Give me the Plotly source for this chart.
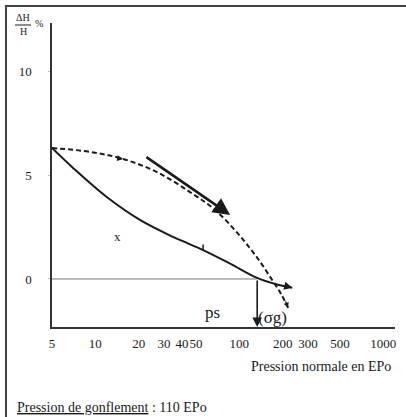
import numpy as np
import plotly.graph_objects as go

# ---- data ----
# solid curve : pression normale (EPo) vs dH/H (%)
solid_x = [5, 7.0, 12.0, 20.4, 34.7, 56, 86.3, 133, 183, 233]
solid_y = [6.3, 5.34, 3.94, 2.84, 2.02, 1.39, 0.74, 0.05, -0.27, -0.42]
# dashed curve
dash_x = [5, 9.2, 15.6, 26.8, 45.4, 67.8, 101, 135, 169, 195, 218]
dash_y = [6.3, 6.11, 5.77, 5.14, 4.18, 3.32, 2.07, 0.96, -0.05, -0.72, -1.39]

x_ticks = [5, 10, 20, 30, 40, 50, 100, 200, 300, 500, 1000]
x_ticktext = ["5", "10", "20", "30", "40", "50", "100", "200", "300", "500", "1000"]
y_ticks = [0, 5, 10]

ps_x = 133            # crossing of the solid curve with 0 (drawn position)
big_arrow_start = (22.1, 5.91)
big_arrow_end = (86.3, 3.08)
tick_mark_pt = (56, 1.39)
dash_mark_pt = (15.6, 5.77)
x_label_pt = (14.2, 2.02)
ps_label_pt = (65.6, -1.59)
sg_label_pt = (171, -1.83)

x_range = [np.log10(5), np.log10(5) + 343 / 144.0]
y_range = [-2.31, 12.31]

SERIF = "Liberation Serif, Times New Roman, serif"
INK = "#1a1a1a"

fig = go.Figure()

# zero line
fig.add_trace(go.Scatter(x=[5, ps_x], y=[0, 0], mode="lines",
                         line=dict(color="#777777", width=1), hoverinfo="skip"))
# solid curve
fig.add_trace(go.Scatter(x=solid_x, y=solid_y, mode="lines",
                         line=dict(color=INK, width=2, shape="spline", smoothing=1.0),
                         hoverinfo="skip"))
# dashed curve
fig.add_trace(go.Scatter(x=dash_x, y=dash_y, mode="lines",
                         line=dict(color=INK, width=2, dash="5px,3px", shape="spline", smoothing=1.0),
                         hoverinfo="skip"))

L = np.log10
ann = []
# big arrow
ann.append(dict(x=L(big_arrow_end[0]), y=big_arrow_end[1], xref="x", yref="y",
                ax=L(big_arrow_start[0]), ay=big_arrow_start[1], axref="x", ayref="y",
                showarrow=True, arrowhead=2, arrowsize=1.3, arrowwidth=2.6,
                arrowcolor=INK, text=""))
# vertical arrow at ps
ann.append(dict(x=L(ps_x), y=y_range[0], xref="x", yref="y",
                ax=L(ps_x), ay=0, axref="x", ayref="y",
                showarrow=True, arrowhead=2, arrowsize=1.2, arrowwidth=1.6,
                arrowcolor=INK, text=""))
# small tick on the solid curve
ann.append(dict(x=L(tick_mark_pt[0]), y=tick_mark_pt[1], xref="x", yref="y",
                ax=0, ay=-7, showarrow=True, arrowhead=0, arrowwidth=1.5,
                arrowcolor=INK, text=""))
# small arrow mark on dashed curve
ann.append(dict(x=L(dash_mark_pt[0]), y=dash_mark_pt[1], xref="x", yref="y",
                ax=-7, ay=-1, showarrow=True, arrowhead=2, arrowsize=0.8, arrowwidth=1.5,
                arrowcolor=INK, text=""))
# end of solid curve
ann.append(dict(x=L(solid_x[-1]), y=solid_y[-1], xref="x", yref="y",
                ax=-8, ay=-2, showarrow=True, arrowhead=2, arrowsize=0.9, arrowwidth=1.8,
                arrowcolor=INK, text=""))
# end of dashed curve
ann.append(dict(x=L(dash_x[-1]), y=dash_y[-1], xref="x", yref="y",
                ax=-3, ay=-8, showarrow=True, arrowhead=2, arrowsize=0.8, arrowwidth=1.3,
                arrowcolor=INK, text=""))

# text labels
def txt(x, y, s, size, xref="x", yref="y", xanchor="center"):
    return dict(x=x, y=y, xref=xref, yref=yref, text=s, showarrow=False,
                xanchor=xanchor, yanchor="middle",
                font=dict(family=SERIF, size=size, color=INK))

ann.append(txt(L(x_label_pt[0]), x_label_pt[1], "x", 13))
ann.append(txt(L(ps_label_pt[0]), ps_label_pt[1], "ps", 17))
ann.append(txt(L(sg_label_pt[0]), sg_label_pt[1], "(σg)", 17))

# axis titles and note
ann.append(txt((393 - 52) / 343, (327 - 366) / 304, "Pression normale en EPo", 14,
               "paper", "paper", "right"))
ann.append(txt((15 - 52) / 343, (327 - 407) / 304,
               "<u>Pression de gonflement</u> : 110 EPo", 14, "paper", "paper", "left"))
ann.append(txt((23 - 52) / 343, (327 - 18) / 304, "ΔH", 10, "paper", "paper"))
ann.append(txt((23 - 52) / 343, (327 - 32) / 304, "H", 10, "paper", "paper"))
ann.append(txt((39 - 52) / 343, (327 - 24) / 304, "%", 10, "paper", "paper"))

shapes = [
    # fraction bar
    dict(type="line", xref="paper", yref="paper",
         x0=(15 - 52) / 343, x1=(31 - 52) / 343, y0=(327 - 25) / 304, y1=(327 - 25) / 304,
         line=dict(color=INK, width=1)),
    # outer frame
    dict(type="rect", xref="paper", yref="paper",
         x0=(6 - 52) / 343, x1=(409 - 52) / 343, y0=(327 - 430) / 304, y1=(327 - 6) / 304,
         line=dict(color="#444444", width=2)),
]

fig.update_layout(
    width=406, height=417,
    margin=dict(l=52, r=11, t=23, b=90),
    paper_bgcolor="white", plot_bgcolor="white",
    showlegend=False,
    annotations=ann, shapes=shapes,
    xaxis=dict(type="log", range=x_range, tickvals=x_ticks, ticktext=x_ticktext,
               tickangle=0,
               showgrid=False, zeroline=False, showline=True, linecolor="#333333", linewidth=1.5,
               ticks="", ticklabelstandoff=4,
               tickfont=dict(family=SERIF, size=13, color=INK)),
    yaxis=dict(range=y_range, tickvals=y_ticks, showgrid=False, zeroline=False,
               showline=True, linecolor="#333333", linewidth=1.5,
               ticks="outside", ticklen=2, tickcolor="#bbbbbb", ticklabelstandoff=14,
               tickfont=dict(family=SERIF, size=13, color=INK)),
)

fig.write_html("out.html", config={"displayModeBar": False},
               post_script="document.body.style.margin='0px';document.body.style.overflow='hidden';")
